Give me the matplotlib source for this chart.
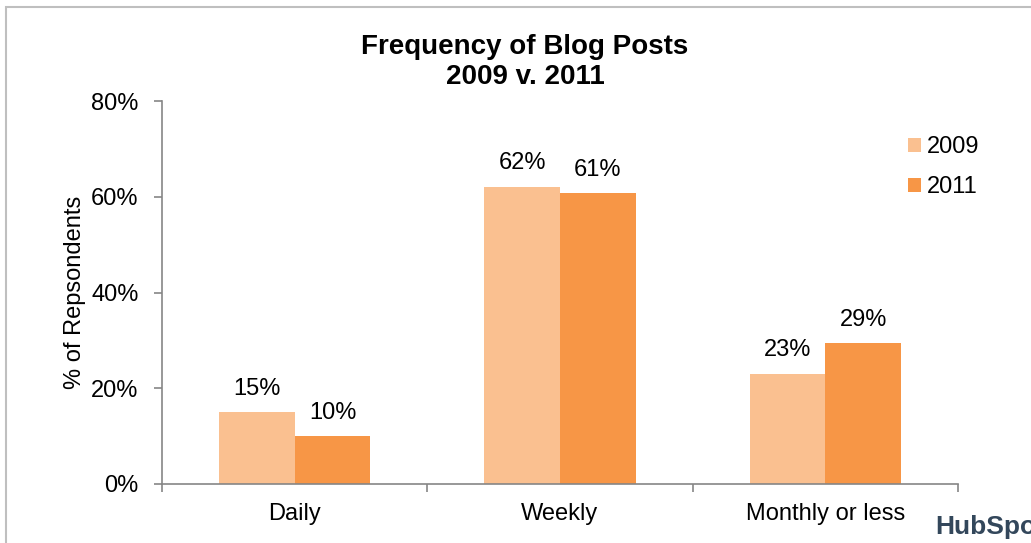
import matplotlib
matplotlib.use("Agg")
import matplotlib.pyplot as plt
import numpy as np
from matplotlib.patches import Rectangle

categories = ["Daily", "Weekly", "Monthly or less"]
series_names = ["2009", "2011"]
values_2009 = [15.0, 62.1, 23.0]
values_2011 = [10.0, 60.7, 29.4]
yticks = [0, 20, 40, 60, 80]
title = "Frequency of Blog Posts\n2009 v. 2011"
ylabel = "% of Repsondents"

colors = ["#FAC090", "#F79646"]
plt.rcParams['font.family'] = ['Liberation Sans', 'DejaVu Sans']
FS = 17

fig = plt.figure(figsize=(10.31, 5.43), dpi=100)
ax = fig.add_axes([162/1031, 1-484/543, (958-162)/1031, (484-101)/543])

x = np.arange(len(categories))
w = 0.285
b1 = ax.bar(x - w/2, values_2009, w, color=colors[0], label=series_names[0])
b2 = ax.bar(x + w/2, values_2011, w, color=colors[1], label=series_names[1])
for bars, vals in ((b1, values_2009), (b2, values_2011)):
    for r, v in zip(bars, vals):
        ax.annotate(f"{v:.0f}%", (r.get_x() + r.get_width()/2, r.get_height()),
                    xytext=(0, 9), textcoords="offset points", ha="center", va="bottom",
                    fontsize=FS)

ax.set_xlim(-0.5, 2.5)
ax.set_ylim(0, 80)
ax.set_yticks(yticks)
ax.set_yticklabels([f"{t}%" for t in yticks], fontsize=FS)
ax.set_xticks(x)
ax.set_xticklabels(categories, fontsize=FS)
ax.tick_params(axis='x', length=0, pad=14)
ax.set_xticks([-0.5, 0.5, 1.5, 2.5], minor=True)
ax.tick_params(axis='x', which='minor', length=6, width=1.2, color='#868686', direction='out')
ax.tick_params(axis='y', length=6, width=1.2, color='#868686', direction='out', pad=11)
for s in ['top', 'right']:
    ax.spines[s].set_visible(False)
for s in ['left', 'bottom']:
    ax.spines[s].set_color('#868686')
    ax.spines[s].set_linewidth(1.2)
ax.set_ylabel(ylabel, fontsize=FS)
ax.yaxis.set_label_coords(-(162-86)/(958-162), 0.5)

fig.text(525/1031, 1-62/543, title, ha='center', va='center', fontsize=20,
         fontweight='bold', linespacing=1.22)

leg = ax.legend(loc='upper left', bbox_to_anchor=((899-162)/(958-162), 1-(127-101)/383),
                frameon=False, fontsize=FS, handlelength=0.55, handleheight=0.55,
                handletextpad=0.25, labelspacing=0.75, borderaxespad=0)

fig.patches.append(Rectangle((6/1031, -0.1), 1.2, 1.1 - 7/543, transform=fig.transFigure,
                             fill=False, edgecolor='#BFBFBF', linewidth=1.5))
fig.text(935/1031, 1-527/543, "HubSpot", ha='left', va='center', fontsize=19,
         fontweight='bold', color='#33475B')

fig.savefig("out.png", dpi=100)
